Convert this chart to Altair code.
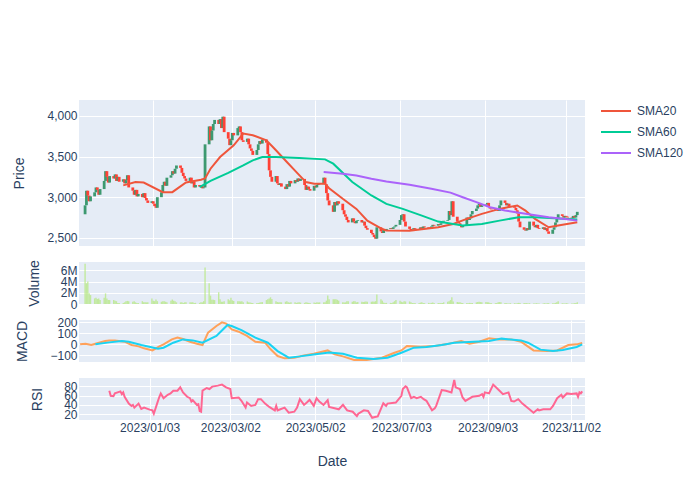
import altair as alt
import pandas as pd

# ---------------- data ----------------
first_open = 2790
closes = [
    2900, 3080, 3020, 2950, 3010,  # 2022-11-14
    3060, 3120, 3090, 3030, 3100,  # 11-21
    3200, 3320, 3250, 3180, 3260,  # 11-28
    3230, 3280, 3200, 3250, 3190,  # 12-05
    3220, 3170, 3210, 3270, 3120,  # 12-12
    3080, 3030, 3090, 3010, 3040,  # 12-19
    3000, 3050, 2990, 2960, 2930,  # 12-26
    2950, 2920, 2890, 2870, 3000,  # 2023-01-02
    3060, 3150, 3190, 3140, 3240,  # 01-09
    3270, 3320, 3290, 3350, 3390,  # 01-16
    3360, 3300, 3260, 3230, 3200,  # 01-23
    3240, 3170, 3190, 3120, 3150,  # 01-30
    3130, 3140, 3110, 3120, 3650,  # 02-06
    3870, 3700, 3820, 3900, 3950,  # 02-13
    3900, 3960, 3850, 3990, 3800,  # 02-20
    3720, 3640, 3700, 3790, 3760,  # 02-27
    3850, 3870, 3800, 3700, 3680,  # 03-06
    3720, 3650, 3600, 3570, 3520,  # 03-13
    3580, 3650, 3690, 3660, 3710,  # 03-20
    3670, 3530, 3330, 3250, 3190,  # 03-27
    3260, 3170, 3150, 3170, 3130,  # 04-03
    3100, 3160, 3130, 3200, 3170,  # 04-10
    3210, 3190, 3230, 3200, 3225,  # 04-17
    3150, 3090, 3130, 3100, 3080,  # 04-24
    3140, 3120, 3150, 3170, 3160,  # 05-01
    3240, 3160, 3050, 2960, 2900,  # 05-08
    2820, 2940, 2900, 2950, 2920,  # 05-15
    2840, 2790, 2760, 2720, 2690,  # 05-22
    2740, 2700, 2680, 2710, 2720,  # 05-29
    2690, 2700, 2650, 2620, 2600,  # 06-05
    2560, 2540, 2510, 2490, 2630,  # 06-12
    2580, 2560, 2600, 2590, 2610,  # 06-19
    2620, 2610, 2630, 2640, 2660,  # 06-26
    2720, 2780, 2790, 2700, 2640,  # 07-03
    2610, 2590, 2600, 2620, 2610,  # 07-10
    2600, 2630, 2610, 2640, 2630,  # 07-17
    2620, 2610, 2640, 2660, 2650,  # 07-24
    2670, 2660, 2680, 2700, 2710,  # 07-31
    2720, 2830, 2780, 2950, 2760,  # 08-07
    2700, 2680, 2650, 2630, 2650,  # 08-14
    2750, 2720, 2740, 2790, 2830,  # 08-21
    2860, 2900, 2920, 2880, 2900,  # 08-28
    2910, 2930, 2880, 2860, 2850,  # 09-04
    2840, 2860, 2830, 2900, 2960,  # 09-11
    2930, 2900, 2920, 2880, 2890,  # 09-18
    2870, 2840, 2800, 2700, 2630,  # 09-25
    2600, 2590, 2620, 2600, 2700,  # 10-02
    2650, 2630, 2660, 2620, 2610,  # 10-09
    2630, 2600, 2620, 2580, 2550,  # 10-16
    2600, 2630, 2690, 2740, 2790,  # 10-23
    2770, 2750, 2770, 2760, 2750,  # 10-30
    2740, 2770, 2750, 2780, 2820,  # 11-06
]

volume_m = [
    7.2, 3.7, 4.0, 1.9, 1.6,
    1.0, 1.1, 0.9, 1.0, 0.7,
    1.1, 1.9, 1.0, 0.7, 0.7,
    0.7, 0.6, 0.5, 0.2, 0.2,
    0.2, 0.3, 0.5, 0.55, 0.5,
    0.4, 0.5, 0.3, 0.2, 0.2,
    0.5, 0.3, 0.3, 0.3, 0.3,
    1.0, 0.6, 0.5, 0.8, 0.5,
    0.4, 0.5, 0.5, 0.4, 0.3,
    0.6, 0.8, 0.6, 0.5, 0.3,
    0.3, 0.3, 0.2, 0.3, 0.3,
    0.3, 0.3, 0.3, 0.2, 0.2,
    0.2, 0.3, 0.3, 0.5, 6.5,
    3.7, 1.5, 0.75, 0.75, 0.7,
    2.1, 0.85, 0.4, 0.4, 0.5,
    0.85, 0.65, 1.1, 0.65, 0.55,
    0.5, 0.5, 0.45, 0.5, 0.3,
    0.45, 0.3, 0.25, 0.2, 0.2,
    0.2, 0.2, 0.25, 0.3, 0.35,
    0.7, 0.85, 1.0, 1.2, 0.9,
    0.5, 0.35, 0.3, 0.3, 0.3,
    0.4, 0.5, 0.3, 0.25, 0.3,
    0.3, 0.2, 0.25, 0.3, 0.25,
    0.2, 0.3, 0.25, 0.2, 0.2,
    0.25, 0.2, 0.3, 0.25, 0.3,
    0.3, 0.3, 0.6, 1.5, 0.85,
    0.85, 0.85, 0.85, 0.75, 0.6,
    0.3, 0.25, 0.3, 0.5, 0.5,
    0.4, 0.5, 0.5, 0.3, 0.35,
    0.4, 0.35, 0.4, 0.45, 0.4,
    0.4, 0.45, 0.4, 0.5, 1.7,
    0.85, 0.6, 0.25, 0.2, 0.2,
    0.2, 0.2, 0.3, 0.5, 0.7,
    0.6, 0.4, 0.3, 0.5, 0.45,
    0.45, 0.3, 0.2, 0.15, 0.2,
    0.2, 0.25, 0.3, 0.2, 0.15,
    0.2, 0.15, 0.2, 0.25, 0.2,
    0.2, 0.15, 0.2, 0.2, 0.3,
    0.4, 0.5, 0.7, 1.2, 0.45,
    0.35, 0.3, 0.3, 0.2, 0.2,
    0.2, 0.15, 0.2, 0.2, 0.2,
    0.3, 0.35, 0.4, 0.35, 0.3,
    0.35, 0.3, 0.3, 0.2, 0.15,
    0.15, 0.2, 0.3, 0.35, 0.3,
    0.2, 0.15, 0.1, 0.1, 0.15,
    0.15, 0.1, 0.15, 0.2, 0.2,
    0.2, 0.15, 0.2, 0.1, 0.15,
    0.1, 0.1, 0.15, 0.1, 0.1,
    0.1, 0.15, 0.1, 0.15, 0.15,
    0.15, 0.15, 0.2, 0.3, 0.5,
    0.15, 0.1, 0.1, 0.15, 0.1,
    0.1, 0.1, 0.15, 0.2, 0.3,
]

sma20 = [("2022-12-12", 3145), ("2022-12-21", 3186), ("2022-12-27", 3180), ("2023-01-10", 3062),
         ("2023-01-17", 3062), ("2023-01-27", 3180), ("2023-02-07", 3215), ("2023-02-10", 3230),
         ("2023-02-14", 3350), ("2023-02-21", 3494), ("2023-03-03", 3638), ("2023-03-10", 3782),
         ("2023-03-17", 3762), ("2023-03-27", 3700), ("2023-04-03", 3577), ("2023-04-11", 3433),
         ("2023-04-18", 3309), ("2023-04-25", 3186), ("2023-05-01", 3165), ("2023-05-09", 3165),
         ("2023-05-12", 3110), ("2023-05-22", 2980), ("2023-06-01", 2856), ("2023-06-09", 2712),
         ("2023-06-20", 2609), ("2023-06-23", 2590), ("2023-07-10", 2589), ("2023-07-31", 2630),
         ("2023-08-11", 2671), ("2023-08-21", 2733), ("2023-09-01", 2795), ("2023-09-14", 2856),
         ("2023-09-20", 2877), ("2023-09-27", 2898), ("2023-10-03", 2836), ("2023-10-10", 2733),
         ("2023-10-20", 2630), ("2023-10-27", 2651), ("2023-11-10", 2692)]
sma60 = [("2023-02-06", 3124), ("2023-02-14", 3200), ("2023-02-27", 3300), ("2023-03-10", 3391),
         ("2023-03-17", 3453), ("2023-03-24", 3494), ("2023-04-03", 3494), ("2023-04-20", 3482),
         ("2023-05-09", 3465), ("2023-05-15", 3412), ("2023-05-29", 3186), ("2023-06-12", 3021),
         ("2023-06-23", 2918), ("2023-07-05", 2856), ("2023-07-19", 2774), ("2023-07-31", 2700),
         ("2023-08-11", 2671), ("2023-08-18", 2651), ("2023-09-01", 2671), ("2023-09-14", 2712),
         ("2023-09-28", 2754), ("2023-10-10", 2754), ("2023-10-24", 2741), ("2023-11-10", 2725)]
sma120 = [("2023-05-08", 3309), ("2023-05-22", 3289), ("2023-06-01", 3268), ("2023-06-12", 3227),
          ("2023-06-23", 3194), ("2023-07-10", 3153), ("2023-07-26", 3103), ("2023-08-09", 3056),
          ("2023-08-18", 3000), ("2023-08-28", 2939), ("2023-09-07", 2877), ("2023-09-18", 2836),
          ("2023-09-26", 2815), ("2023-10-09", 2782), ("2023-10-20", 2754), ("2023-11-01", 2733),
          ("2023-11-10", 2712)]

macd = [("2022-11-14", 0), ("2022-11-18", 6), ("2022-11-22", -6), ("2022-11-25", 6), ("2022-12-02", 30),
        ("2022-12-05", 36), ("2022-12-09", 36), ("2022-12-16", 24), ("2022-12-21", -6), ("2022-12-26", -18),
        ("2022-12-30", -36), ("2023-01-05", -55), ("2023-01-10", -18), ("2023-01-13", 0), ("2023-01-19", 45),
        ("2023-01-23", 61), ("2023-01-27", 48), ("2023-02-01", 24), ("2023-02-06", 6), ("2023-02-10", -6),
        ("2023-02-14", 106), ("2023-02-20", 167), ("2023-02-24", 200), ("2023-02-27", 188), ("2023-03-03", 136),
        ("2023-03-08", 115), ("2023-03-14", 76), ("2023-03-20", 24), ("2023-03-27", 15), ("2023-03-31", -45),
        ("2023-04-05", -106), ("2023-04-10", -127), ("2023-04-17", -121), ("2023-04-24", -100), ("2023-05-01", -85),
        ("2023-05-11", -55), ("2023-05-16", -91), ("2023-05-22", -109), ("2023-05-30", -142), ("2023-06-08", -142),
        ("2023-06-19", -121), ("2023-06-28", -76), ("2023-07-03", -55), ("2023-07-07", -15), ("2023-07-17", -21),
        ("2023-07-27", -15), ("2023-08-04", 0), ("2023-08-15", 30), ("2023-08-21", 6), ("2023-08-28", 24),
        ("2023-09-04", 55), ("2023-09-11", 45), ("2023-09-20", 45), ("2023-09-27", 24), ("2023-10-06", -55),
        ("2023-10-16", -61), ("2023-10-23", -55), ("2023-10-31", -6), ("2023-11-06", 0), ("2023-11-10", 12)]
signal = [("2022-11-25", 0), ("2022-12-05", 18), ("2022-12-14", 30), ("2022-12-19", 24), ("2022-12-28", -6),
          ("2023-01-09", -39), ("2023-01-13", -30), ("2023-01-20", 15), ("2023-01-27", 45), ("2023-02-03", 36),
          ("2023-02-10", 15), ("2023-02-20", 76), ("2023-02-28", 176), ("2023-03-03", 167), ("2023-03-10", 130),
          ("2023-03-20", 61), ("2023-03-29", 15), ("2023-04-05", -61), ("2023-04-13", -121), ("2023-04-21", -109),
          ("2023-05-01", -91), ("2023-05-12", -73), ("2023-05-22", -85), ("2023-06-01", -121), ("2023-06-13", -133),
          ("2023-06-23", -121), ("2023-07-03", -76), ("2023-07-12", -30), ("2023-07-21", -24), ("2023-08-01", -6),
          ("2023-08-10", 15), ("2023-08-24", 24), ("2023-09-04", 30), ("2023-09-13", 52), ("2023-09-27", 36),
          ("2023-10-02", 15), ("2023-10-11", -48), ("2023-10-20", -61), ("2023-10-27", -52), ("2023-11-06", -24),
          ("2023-11-10", 0)]

rsi = [("2022-12-05", 70.5), ("2022-12-06", 59.5), ("2022-12-08", 58.7), ("2022-12-09", 64.6), ("2022-12-13", 69),
       ("2022-12-14", 63), ("2022-12-15", 66.8), ("2022-12-16", 57.3), ("2022-12-19", 42.6), ("2022-12-21", 37.5),
       ("2022-12-22", 39.7), ("2022-12-23", 33.8), ("2022-12-26", 42.6), ("2022-12-28", 30.9), ("2022-12-30", 33.8),
       ("2023-01-03", 29.4), ("2023-01-05", 27.9), ("2023-01-06", 20.6), ("2023-01-09", 48.5), ("2023-01-10", 57.3),
       ("2023-01-11", 64.6), ("2023-01-13", 54.3), ("2023-01-16", 61.7), ("2023-01-18", 64.6), ("2023-01-20", 70.5),
       ("2023-01-23", 70.5), ("2023-01-25", 77.8), ("2023-01-27", 66.8), ("2023-01-30", 57.3), ("2023-02-01", 54.3),
       ("2023-02-02", 47), ("2023-02-03", 49.9), ("2023-02-06", 39.7), ("2023-02-07", 41.1), ("2023-02-08", 26.5),
       ("2023-02-09", 25), ("2023-02-10", 70.5), ("2023-02-13", 76.3), ("2023-02-15", 74.1), ("2023-02-17", 79.3),
       ("2023-02-21", 81.5), ("2023-02-24", 83.7), ("2023-02-27", 77.8), ("2023-03-02", 74.1), ("2023-03-03", 54.3),
       ("2023-03-08", 55.8), ("2023-03-10", 48.5), ("2023-03-13", 33.8), ("2023-03-14", 44.8), ("2023-03-17", 37.5),
       ("2023-03-20", 39.7), ("2023-03-22", 52.1), ("2023-03-24", 52.1), ("2023-03-27", 42.6), ("2023-03-30", 35.3),
       ("2023-04-03", 27.9), ("2023-04-04", 37.5), ("2023-04-05", 27.9), ("2023-04-07", 30.2), ("2023-04-10", 33.8),
       ("2023-04-13", 22.8), ("2023-04-17", 25), ("2023-04-19", 33.8), ("2023-04-21", 52.1), ("2023-04-24", 39.7),
       ("2023-04-26", 44.8), ("2023-04-28", 50.7), ("2023-05-01", 37.5), ("2023-05-03", 54.3), ("2023-05-05", 47),
       ("2023-05-08", 39.7), ("2023-05-11", 49.9), ("2023-05-12", 35.3), ("2023-05-16", 32.4), ("2023-05-19", 30.2),
       ("2023-05-22", 39.7), ("2023-05-25", 27.9), ("2023-05-29", 25), ("2023-06-01", 15.5), ("2023-06-02", 20.6),
       ("2023-06-06", 27.9), ("2023-06-09", 26.5), ("2023-06-12", 11.8), ("2023-06-14", 13.3), ("2023-06-16", 14.8),
       ("2023-06-20", 43.4), ("2023-06-22", 37.5), ("2023-06-23", 42.6), ("2023-06-29", 44.8), ("2023-07-03", 59.5),
       ("2023-07-04", 74.1), ("2023-07-06", 80), ("2023-07-07", 77.8), ("2023-07-10", 54.3), ("2023-07-12", 57.3),
       ("2023-07-14", 54.3), ("2023-07-17", 57.3), ("2023-07-19", 52.1), ("2023-07-21", 48.5), ("2023-07-25", 27.9),
       ("2023-07-27", 32.4), ("2023-07-28", 37.5), ("2023-08-01", 71.9), ("2023-08-04", 70.5), ("2023-08-08", 66.8),
       ("2023-08-10", 93.9), ("2023-08-11", 77.8), ("2023-08-14", 74.1), ("2023-08-16", 55.8), ("2023-08-18", 48.5),
       ("2023-08-23", 57.3), ("2023-08-28", 59.5), ("2023-08-30", 63.1), ("2023-08-31", 57.3), ("2023-09-01", 66.8),
       ("2023-09-04", 64.6), ("2023-09-07", 83.7), ("2023-09-11", 71.9), ("2023-09-14", 63.1), ("2023-09-18", 66.8),
       ("2023-09-20", 48.5), ("2023-09-22", 47), ("2023-09-25", 52.1), ("2023-09-28", 42.6), ("2023-10-03", 30.2),
       ("2023-10-06", 22.8), ("2023-10-09", 30.2), ("2023-10-10", 27.9), ("2023-10-13", 30.2), ("2023-10-18", 30.2),
       ("2023-10-20", 37.5), ("2023-10-23", 54.3), ("2023-10-26", 61.7), ("2023-10-27", 55.8), ("2023-10-30", 64.6),
       ("2023-11-02", 63.1), ("2023-11-06", 64.6), ("2023-11-07", 57.3), ("2023-11-08", 66.8), ("2023-11-09", 64.6),
       ("2023-11-10", 69)]

tick_dates = ["2023-01-03", "2023-03-02", "2023-05-02", "2023-07-03", "2023-09-03", "2023-11-02"]
sma_names = ["SMA20", "SMA60", "SMA120"]
sma_colors = ["#EF553B", "#00CC96", "#AB63FA"]

# ---------------- tables ----------------
dates = pd.bdate_range("2022-11-14", "2023-11-10").strftime("%Y-%m-%d")
price_df = pd.DataFrame({
    "date": dates,
    "open": [first_open] + closes[:-1],
    "close": closes,
    "volume": [v * 1e6 for v in volume_m],
})
sma_df = pd.DataFrame(
    [(d, v, n) for n, s in zip(sma_names, [sma20, sma60, sma120]) for d, v in s],
    columns=["date", "value", "sma"])
macd_df = pd.DataFrame(
    [(d, v, "MACD") for d, v in macd] + [(d, v, "Signal") for d, v in signal],
    columns=["date", "value", "line"])
rsi_df = pd.DataFrame(rsi, columns=["date", "rsi"])


def dt(s, hours=0):
    y, m, d = (int(p) for p in s.split("-"))
    return alt.DateTime(year=y, month=m, date=d, hours=hours, utc=True)


x_scale = alt.Scale(type="utc", domain=[dt("2022-11-13", 5), dt("2023-11-12")])
tick_vals = [dt(s) for s in tick_dates]
grid_axis = alt.Axis(values=tick_vals, labels=False, ticks=False, domain=False, title=None, grid=True)
bottom_axis = alt.Axis(values=tick_vals, labelExpr="utcFormat(datum.value, '%Y/%m/%d')",
                       labelPadding=2, title="Date", titlePadding=21, grid=True, labelOverlap=False)

W = 506

# ---------------- price panel ----------------
price_y = alt.Scale(domain=[2400, 4195], nice=False, zero=False)
price_axis = alt.Axis(values=[2500, 3000, 3500, 4000], labelExpr="format(datum.value, ',')",
                      title="Price", titlePadding=20, labelOverlap=False)
candles = alt.Chart(price_df).mark_bar(width=2.8).encode(
    x=alt.X("date:T", scale=x_scale, axis=grid_axis),
    y=alt.Y("open:Q", scale=price_y, axis=price_axis),
    y2="close:Q",
    color=alt.condition("datum.close >= datum.open", alt.value("#3D9970"), alt.value("#FF4136")),
)
sma_lines = alt.Chart(sma_df).mark_line(strokeWidth=2, clip=True).encode(
    x=alt.X("date:T", scale=x_scale, axis=grid_axis),
    y=alt.Y("value:Q", scale=price_y, axis=price_axis),
    color=alt.Color("sma:N", scale=alt.Scale(domain=sma_names, range=sma_colors), sort=sma_names,
                    legend=alt.Legend(orient="none", legendX=526, legendY=0, title=None,
                                      symbolType="M-1.5,0H1.5", symbolSize=400, symbolStrokeWidth=2,
                                      labelOffset=10, labelFontSize=12, labelColor="#2a3f5f",
                                      labelFont="Arial", rowPadding=4, padding=0)),
)
price = alt.layer(candles, sma_lines).properties(width=W, height=146)

# ---------------- volume panel ----------------
volume = alt.Chart(price_df).mark_bar(width=1.4, color="#B6E880", opacity=0.75).encode(
    x=alt.X("date:T", scale=x_scale, axis=None),
    y=alt.Y("volume:Q", scale=alt.Scale(domain=[0, 7.5e6], nice=False),
            axis=alt.Axis(values=[0, 2e6, 4e6, 6e6],
                          labelExpr="datum.value == 0 ? '0' : format(datum.value, '~s')",
                          title="Volume", titlePadding=19, labelOverlap=False)),
).properties(width=W, height=42)

# ---------------- MACD panel ----------------
macd_chart = alt.Chart(macd_df).mark_line(strokeWidth=2, clip=True).encode(
    x=alt.X("date:T", scale=x_scale, axis=grid_axis),
    y=alt.Y("value:Q", scale=alt.Scale(domain=[-160, 221], nice=False, zero=False),
            axis=alt.Axis(values=[-100, 0, 100, 200], title="MACD", titlePadding=20, labelOverlap=False)),
    color=alt.Color("line:N", scale=alt.Scale(domain=["MACD", "Signal"], range=["#FFA15A", "#19D3F3"]),
                    legend=None),
).properties(width=W, height=42)

# ---------------- RSI panel ----------------
rsi_chart = alt.Chart(rsi_df).mark_line(strokeWidth=2, color="#FF6692", clip=True).encode(
    x=alt.X("date:T", scale=x_scale, axis=bottom_axis),
    y=alt.Y("rsi:Q", scale=alt.Scale(domain=[7, 98], nice=False, zero=False),
            axis=alt.Axis(values=[20, 40, 60, 80], title="RSI", titlePadding=19, labelOverlap=False)),
).properties(width=W, height=42)

chart = alt.vconcat(price, volume, macd_chart, rsi_chart, spacing=16, bounds="flush").resolve_scale(
    color="independent", y="independent", x="independent"
).properties(
    padding={"left": 4, "top": 92, "right": 5, "bottom": 5},
    background="white",
).configure_view(
    fill="#E5ECF6", stroke=None
).configure_axis(
    domain=False, ticks=False, gridColor="white", gridWidth=1,
    labelColor="#2a3f5f", titleColor="#2a3f5f", labelFont="Arial", titleFont="Arial",
    labelFontSize=12, titleFontSize=14, titleFontWeight="normal", labelPadding=2,
)

chart.save("out.html", embed_options={"renderer": "svg", "actions": False})
